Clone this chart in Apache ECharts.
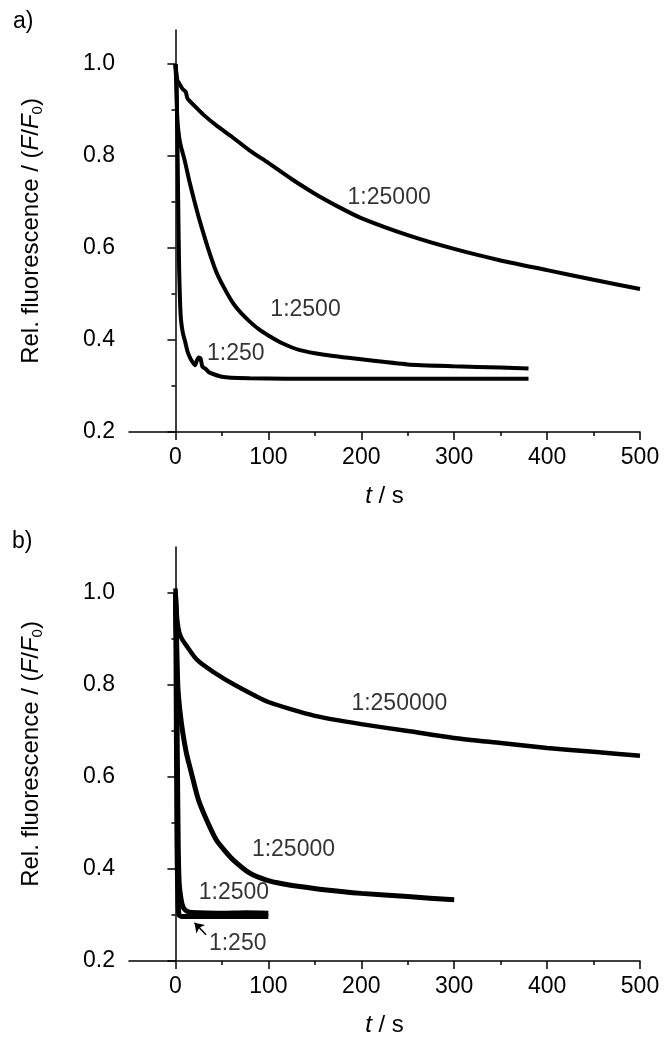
<!DOCTYPE html>
<html>
<head>
<meta charset="utf-8">
<script src="https://cdn.jsdelivr.net/npm/echarts@6/dist/echarts.min.js"></script>
<style>
  html, body { margin: 0; padding: 0; background: #fff; }
  #main { width: 669px; height: 1050px; }
</style>
</head>
<body>
<div id="main"></div>
<script>
// panel a) time (s) and relative fluorescence per dilution
var tA25000 = [0, 2, 4, 8, 11, 13, 20, 30, 45, 60, 80, 100, 125, 150, 175, 200, 250, 300, 350, 400, 450, 500];
var vA25000 = [1.0, 0.965, 0.958, 0.945, 0.94, 0.925, 0.91, 0.89, 0.865, 0.843, 0.812, 0.785, 0.75, 0.718, 0.69, 0.665, 0.628, 0.598, 0.573, 0.552, 0.531, 0.511];
var tA2500 = [0, 1, 2, 4, 6, 10, 15, 20, 26, 35, 44, 52, 62, 70, 80, 90, 100, 115, 134, 160, 200, 250, 300, 350, 380];
var vA2500 = [1.0, 0.95, 0.88, 0.84, 0.82, 0.79, 0.745, 0.705, 0.66, 0.6, 0.548, 0.515, 0.48, 0.46, 0.44, 0.423, 0.41, 0.393, 0.378, 0.368, 0.358, 0.347, 0.343, 0.34, 0.338];
var tA250 = [0, 1, 2, 3, 4, 5, 6, 8, 10, 13, 16, 19, 21, 23, 25, 27, 29, 32, 36, 42, 50, 60, 80, 120, 200, 300, 380];
var vA250 = [1.0, 0.97, 0.85, 0.69, 0.55, 0.48, 0.443, 0.415, 0.4, 0.375, 0.36, 0.35, 0.345, 0.355, 0.362, 0.36, 0.342, 0.338, 0.33, 0.325, 0.32, 0.318, 0.317, 0.316, 0.316, 0.316, 0.316];

// panel b)
var tB250000 = [0, 1, 2, 4, 7, 12, 23, 41, 64, 100, 150, 200, 250, 300, 350, 400, 450, 500];
var vB250000 = [1.01, 0.97, 0.94, 0.915, 0.9, 0.885, 0.855, 0.828, 0.8, 0.763, 0.733, 0.715, 0.7, 0.685, 0.674, 0.663, 0.655, 0.646];
var tB25000 = [0, 1, 2.5, 5, 8, 12, 17, 22, 26, 35, 44, 53, 62, 80, 98, 115, 134, 160, 200, 250, 300];
var vB25000 = [1.0, 0.92, 0.8, 0.74, 0.695, 0.65, 0.61, 0.57, 0.543, 0.5, 0.463, 0.44, 0.42, 0.391, 0.376, 0.368, 0.362, 0.355, 0.347, 0.34, 0.333];
var tB2500 = [0, 1, 2, 3, 4, 6, 8, 11, 15, 25, 50, 75, 100];
var vB2500 = [1.0, 0.9, 0.65, 0.45, 0.37, 0.335, 0.318, 0.31, 0.306, 0.305, 0.304, 0.305, 0.304];
var tB250 = [0, 0.5, 1, 1.5, 2, 3, 4, 6, 10, 25, 50, 75, 100];
var vB250 = [1.0, 0.9, 0.7, 0.5, 0.4, 0.32, 0.3, 0.297, 0.297, 0.297, 0.297, 0.297, 0.297];

// ticks
var xMajor = [0, 100, 200, 300, 400, 500];
var xMinor = [50, 150, 250, 350, 450];
var yMajor = [0.2, 0.4, 0.6, 0.8, 1.0];
var yMinor = [0.3, 0.5, 0.7, 0.9];

// curve labels [t, value, text]
var labelsA = [[230, 0.709, '1:25000'], [140, 0.465, '1:2500'], [65, 0.371, '1:250']];
var labelsB = [[241, 0.759, '1:250000'], [127, 0.441, '1:25000'], [63, 0.348, '1:2500'], [67, 0.237, '1:250']];
var arrowB = [[33, 0.257], [20.5, 0.283]];

var font = 'Liberation Sans, Arial, sans-serif';
var black = '#000';
var fs = 23;

function pairs(t, v) {
  return t.map(function (x, i) { return [x, v[i]]; });
}

function xAxes(grid) {
  return [{
    gridIndex: grid, type: 'value', min: -50, max: 500, position: 'bottom',
    axisLine: { lineStyle: { color: black, width: 1.5 } },
    axisTick: { customValues: xMajor, length: 8, lineStyle: { color: black, width: 1.5 } },
    axisLabel: { customValues: xMajor, margin: 14, fontSize: fs, color: black, fontFamily: font },
    splitLine: { show: false },
    name: '{i|t} / s', nameLocation: 'middle', nameGap: 52,
    nameTextStyle: { fontSize: 24, color: black, fontFamily: font,
      rich: { i: { fontStyle: 'italic', fontSize: 24, fontFamily: font, color: black } } }
  }, {
    gridIndex: grid, type: 'value', min: -50, max: 500, position: 'bottom',
    axisLine: { show: false },
    axisTick: { customValues: xMinor, length: 4, lineStyle: { color: black, width: 1.5 } },
    axisLabel: { show: false },
    splitLine: { show: false }
  }];
}

function yAxes(grid, ymax) {
  var rich = {
    n: { fontSize: 24, fontFamily: font, color: black, lineHeight: 28 },
    i: { fontSize: 24, fontFamily: font, color: black, fontStyle: 'italic', lineHeight: 28 },
    s: { fontSize: 15, fontFamily: font, color: black, verticalAlign: 'bottom', lineHeight: 15 }
  };
  return [{
    gridIndex: grid, type: 'value', min: 0.2, max: ymax, position: 'left',
    axisLine: { lineStyle: { color: black, width: 1.5 } },
    axisTick: { customValues: yMajor, length: 8, lineStyle: { color: black, width: 1.5 } },
    axisLabel: { customValues: yMajor, margin: 14, fontSize: fs, color: black, fontFamily: font,
      formatter: function (v) { return v.toFixed(1); } },
    splitLine: { show: false },
    name: '{n|Rel. fluorescence / (}{i|F}{n|/}{i|F}{s|0}{n|)}',
    nameLocation: 'middle', nameGap: 84,
    nameTextStyle: { rich: rich }
  }, {
    gridIndex: grid, type: 'value', min: 0.2, max: ymax, position: 'left',
    axisLine: { show: false },
    axisTick: { customValues: yMinor, length: 4, lineStyle: { color: black, width: 1.5 } },
    axisLabel: { show: false },
    splitLine: { show: false }
  }];
}

function curve(xi, yi, t, v, w) {
  return {
    type: 'line', xAxisIndex: xi, yAxisIndex: yi, data: pairs(t, v),
    showSymbol: false, smooth: 0.2,
    lineStyle: { color: black, width: w }
  };
}

function labelSeries(xi, yi, list) {
  return {
    type: 'scatter', xAxisIndex: xi, yAxisIndex: yi, silent: true,
    symbolSize: 1, itemStyle: { color: 'rgba(0,0,0,0)' },
    data: list.map(function (d) { return { value: [d[0], d[1]], name: d[2] }; }),
    label: { show: true, position: 'inside', formatter: '{b}', fontSize: fs, color: black, fontFamily: font }
  };
}

var chartDom = document.getElementById('main');
var myChart = echarts.init(chartDom);

var arrowSeries = labelSeries(2, 2, labelsB);
arrowSeries.markLine = {
  silent: true, symbol: ['none', 'arrow'], symbolSize: 9,
  label: { show: false },
  lineStyle: { color: black, width: 1.5, type: 'solid' },
  data: [[{ coord: arrowB[0] }, { coord: arrowB[1] }]]
};

var option = {
  animation: false,
  backgroundColor: '#fff',
  grid: [
    { left: 129, right: 29, top: 30, height: 402 },
    { left: 129, right: 29, top: 547, height: 414 }
  ],
  xAxis: xAxes(0).concat(xAxes(1)),
  yAxis: yAxes(0, 1.074).concat(yAxes(1, 1.1)),
  graphic: [
    { type: 'text', left: 13, top: 10, style: { text: 'a)', fontSize: fs, fill: black, fontFamily: font } },
    { type: 'text', left: 12, top: 530, style: { text: 'b)', fontSize: fs, fill: black, fontFamily: font } }
  ],
  series: [
    curve(0, 0, tA25000, vA25000, 4),
    curve(0, 0, tA2500, vA2500, 4),
    curve(0, 0, tA250, vA250, 4),
    labelSeries(0, 0, labelsA),
    curve(2, 2, tB250000, vB250000, 4.5),
    curve(2, 2, tB25000, vB25000, 5),
    curve(2, 2, tB2500, vB2500, 5),
    curve(2, 2, tB250, vB250, 5),
    arrowSeries
  ]
};

option && myChart.setOption(option);
</script>
</body>
</html>
